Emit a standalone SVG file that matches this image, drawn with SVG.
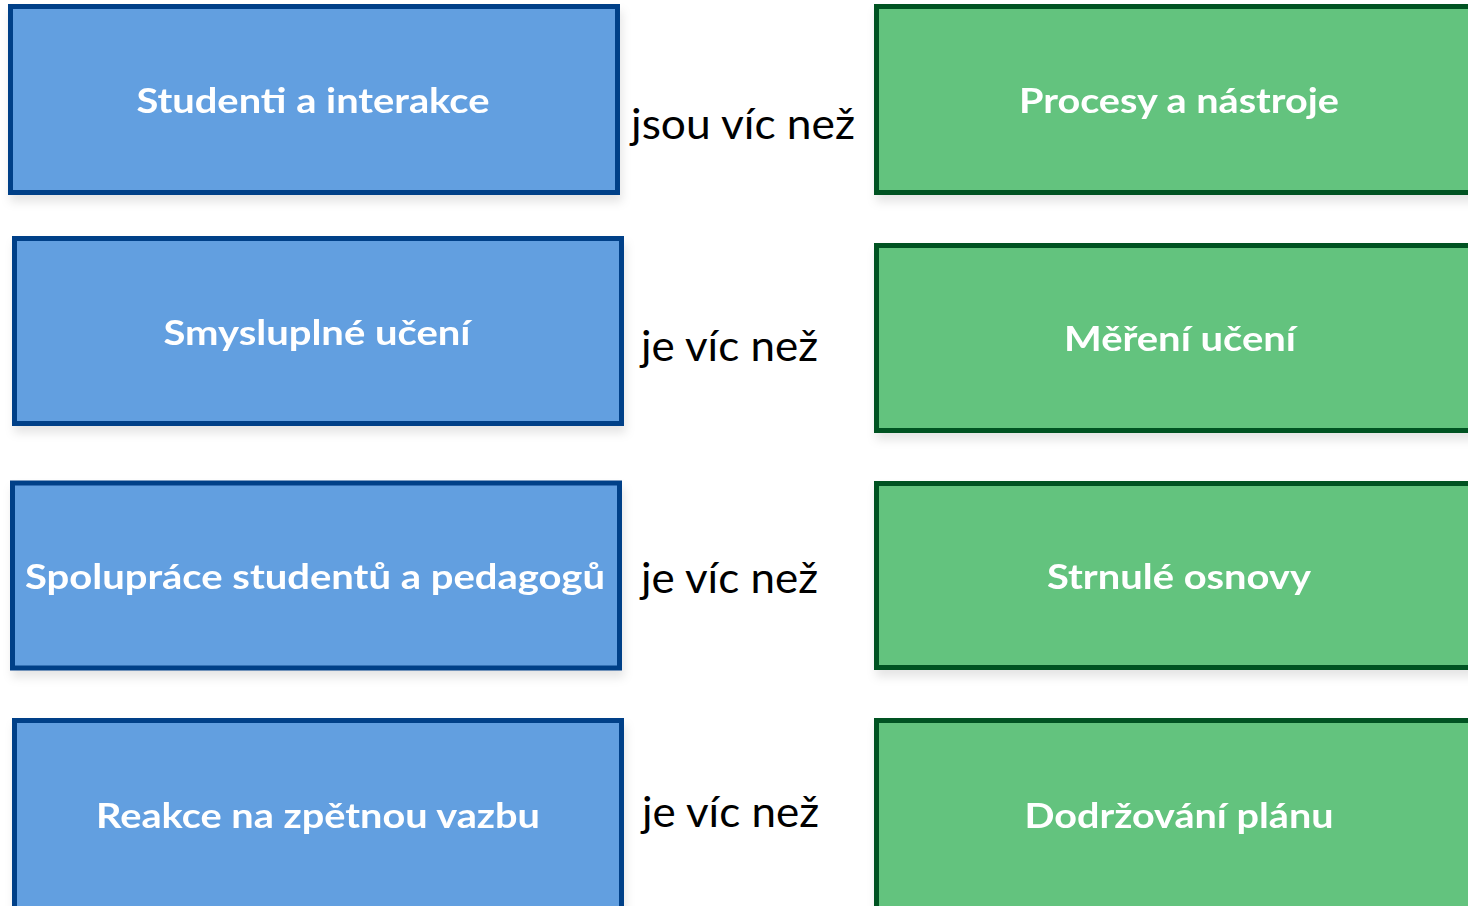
<svg xmlns="http://www.w3.org/2000/svg" width="1468" height="906" viewBox="0 0 1468 906">
  <defs>
    <filter id="sh" x="-5%" y="-10%" width="115%" height="130%">
      <feDropShadow dx="2" dy="7" stdDeviation="5" flood-color="#000" flood-opacity="0.10"/>
    </filter>
  </defs>
  <style>
    .blue { fill: #629FE0; stroke: #003F88; stroke-width: 5; }
    .green { fill: #63C37E; stroke: #005320; stroke-width: 5; }
    .t { font-family: Lato, "Liberation Sans", sans-serif; font-weight: bold; font-size: 35px; fill: #FFFFFF; text-anchor: middle; }
    .lbl { font-family: Lato, "Liberation Sans", sans-serif; font-size: 42px; fill: #000000; }
  </style>
  <rect width="1468" height="906" fill="#FFFFFF"/>

  <g id="b1" filter="url(#sh)">
    <rect class="blue" x="10.5" y="6.5" width="607" height="186"/>
    <text class="t" x="313" y="113" textLength="353" lengthAdjust="spacingAndGlyphs">Studenti a interakce</text>
  </g>
  <g id="b2" filter="url(#sh)">
    <rect class="blue" x="14.5" y="238.5" width="607" height="185"/>
    <text class="t" x="317" y="345" textLength="307" lengthAdjust="spacingAndGlyphs">Smysluplné učení</text>
  </g>
  <g id="b3" filter="url(#sh)">
    <rect class="blue" x="12.5" y="483" width="607" height="185"/>
    <text class="t" x="315" y="589" textLength="580" lengthAdjust="spacingAndGlyphs">Spolupráce studentů a pedagogů</text>
  </g>
  <g id="b4" filter="url(#sh)">
    <rect class="blue" x="14.5" y="720.5" width="607" height="200"/>
    <text class="t" x="318" y="828" textLength="444" lengthAdjust="spacingAndGlyphs">Reakce na zpětnou vazbu</text>
  </g>

  <g id="g1" filter="url(#sh)">
    <rect class="green" x="876.5" y="6.5" width="620" height="186"/>
    <text class="t" x="1179" y="113" textLength="320" lengthAdjust="spacingAndGlyphs">Procesy a nástroje</text>
  </g>
  <g id="g2" filter="url(#sh)">
    <rect class="green" x="876.5" y="245.5" width="620" height="185"/>
    <text class="t" x="1180" y="351" textLength="232" lengthAdjust="spacingAndGlyphs">Měření učení</text>
  </g>
  <g id="g3" filter="url(#sh)">
    <rect class="green" x="876.5" y="483.5" width="620" height="184"/>
    <text class="t" x="1179" y="589" textLength="264" lengthAdjust="spacingAndGlyphs">Strnulé osnovy</text>
  </g>
  <g id="g4" filter="url(#sh)">
    <rect class="green" x="876.5" y="720.5" width="620" height="200"/>
    <text class="t" x="1179" y="828" textLength="309" lengthAdjust="spacingAndGlyphs">Dodržování plánu</text>
  </g>

  <g id="connectors">
    <text class="lbl" x="631" y="139" textLength="224" lengthAdjust="spacingAndGlyphs">jsou víc než</text>
    <text class="lbl" x="641" y="361" textLength="177" lengthAdjust="spacingAndGlyphs">je víc než</text>
    <text class="lbl" x="641" y="593" textLength="177" lengthAdjust="spacingAndGlyphs">je víc než</text>
    <text class="lbl" x="642" y="827" textLength="177" lengthAdjust="spacingAndGlyphs">je víc než</text>
  </g>
</svg>
